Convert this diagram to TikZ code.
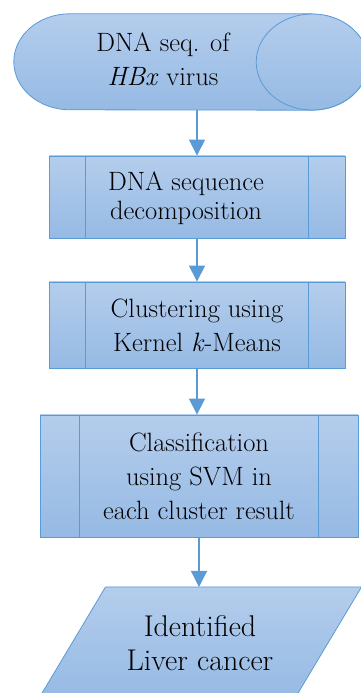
\documentclass[tikz,border=0pt]{standalone}
\usepackage{fontspec}
\usetikzlibrary{arrows.meta}
\definecolor{edge}{RGB}{91,155,213}
\definecolor{boxtop}{RGB}{180,205,236}
\definecolor{boxbot}{RGB}{150,186,228}

\begin{document}
\begin{tikzpicture}[x=1pt,y=1pt,
  box/.style={draw=edge, line width=0.8pt, top color=boxtop, bottom color=boxbot},
  proc/.style={box, rectangle, inner sep=0pt},
  txt/.style={align=center, font=\fontsize{26.5}{34}\selectfont},
  flow/.style={draw=edge, line width=1.2pt, -{Triangle[width=16pt,length=16pt]}}]
  \useasboundingbox (0,0) rectangle (360,693);
  % stored data at the top
  \node (dna) [minimum width=242pt, minimum height=96pt, inner sep=0pt] at (191,631) {};
  \draw [box] (dna.north east) -- (dna.north west) arc [start angle=90, end angle=270, x radius=56pt, y radius=48pt] -- (dna.south east) arc [start angle=-90, end angle=90, x radius=56pt, y radius=48pt] -- cycle;
  \draw [box] (dna.east) ellipse [x radius=56pt, y radius=48pt];
  \node (dna text) [txt] at (163,634) {DNA seq. of\\\textit{HBx} virus};
  % processes
  \node (decomp) [proc, minimum width=296pt, minimum height=82pt] at (197,496) {};
  \node (decomp text) [txt, font=\fontsize{26.5}{29}\selectfont] at (186,495) {DNA sequence\\decomposition};
  \node (cluster) [proc, txt, minimum width=296pt, minimum height=86pt] at (197,368) {Clustering using\\Kernel \textit{k}-Means};
  \node (svm) [proc, txt, minimum width=318pt, minimum height=122pt] at (199,217) {Classification\\using SVM in\\each cluster result};
  \foreach \n/\d in {decomp/37, cluster/37, svm/40}
    \draw [draw=edge, line width=0.8pt] ([xshift=\d]\n.north west) -- ([xshift=\d]\n.south west) ([xshift=-\d]\n.north east) -- ([xshift=-\d]\n.south east);
  % output
  \coordinate (out) at (200,50);
  \coordinate (out top) at (200,106);
  \draw [box] ([shift={(-94.5,56)}]out) -- ([shift={(161.5,56)}]out) -- ([shift={(94.5,-56)}]out) -- ([shift={(-161.5,-56)}]out) -- cycle;
  \node (out text) [txt, font=\fontsize{30}{34}\selectfont] at (out) {Identified\\Liver cancer};
  \draw [flow] (dna.south -| decomp.north) -- (decomp.north);
  \draw [flow] (decomp) -- (cluster);
  \draw [flow] (cluster.south) -- (cluster.south |- svm.north);
  \draw [flow] (svm.south) -- (svm.south |- out top);
\end{tikzpicture}
\end{document}
